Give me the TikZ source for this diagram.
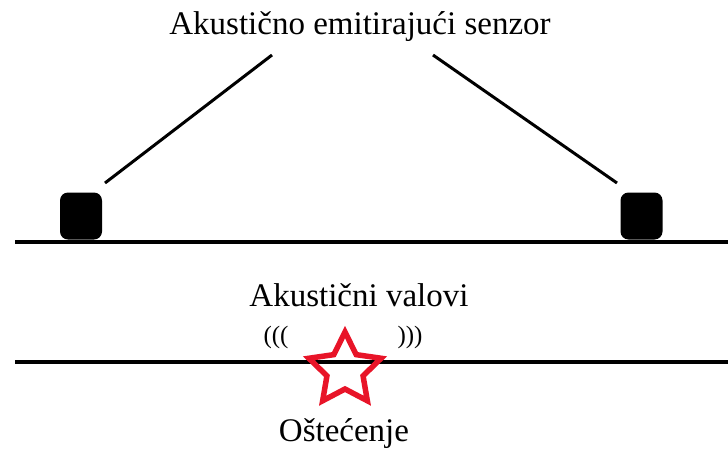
\documentclass[tikz,border=0pt]{standalone}
\usepackage{fontspec}
\setmainfont{Liberation Serif}
\usetikzlibrary{shapes.geometric}
\definecolor{dmgred}{RGB}{232,20,40}
\begin{document}
\begin{tikzpicture}[x=1pt,y=-1pt,
  lbl/.style={font=\fontsize{33}{38}\selectfont, inner sep=0pt, anchor=base, text=black},
  wave/.style={font=\fontsize{25}{28}\selectfont, inner sep=0pt},
  sensor/.style={fill=black, rounded corners=8pt, minimum width=42pt, minimum height=47pt, inner sep=0pt},
  rail/.style={line width=4.5pt},
  link/.style={line width=3pt}]
\useasboundingbox (0,0) rectangle (728,451);
% rails
\coordinate (r1a) at (15,242); \coordinate (r1b) at (728,242);
\coordinate (r2a) at (15,362); \coordinate (r2b) at (728,362);
\draw[rail] (r1a) -- (r1b);
\draw[rail] (r2a) -- (r2b);
% sensors
\node[sensor] (sL) at (81,216) {};
\node[sensor] (sR) at (641.5,216) {};
% title
\node[lbl] (title) at (360,34) {Akustično emitirajući senzor};
\coordinate (l1) at (272,55); \coordinate (l2) at (105,183);
\coordinate (r1) at (433,55); \coordinate (r2) at (617,183);
\draw[link] (l1) -- (l2);
\draw[link] (r1) -- (r2);
% waves
\node[lbl] (waves) at (359,306) {Akustični valovi};
\node[wave] (wl) at (276,337) {(((};
\node[wave] (wr) at (410,337) {)))};
% star
\node[star, star points=5, star point ratio=2.0, draw=dmgred, line width=5.5pt, minimum size=76pt, inner sep=0pt] (dmg) at (345,370) {};
\node[lbl] (lbl2) at (344,441) {Oštećenje};
\end{tikzpicture}
\end{document}
